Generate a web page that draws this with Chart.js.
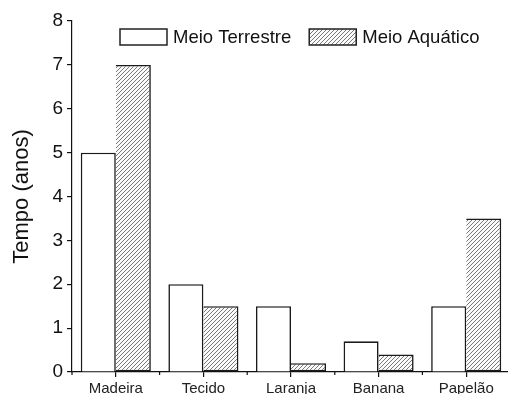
<!DOCTYPE html>
<html>
<head>
<meta charset="utf-8">
<script src="https://cdn.jsdelivr.net/npm/chart.js@4/dist/chart.umd.min.js"></script>
<style>
  html, body { margin: 0; padding: 0; background: #fff; overflow: hidden; }
  #wrap { width: 510px; height: 394px; }
</style>
</head>
<body>
<div id="wrap"><canvas id="chart" width="510" height="394"></canvas></div>
<script>
const categories = ['Madeira', 'Tecido', 'Laranja', 'Banana', 'Papelão'];
const terrestre = [5, 2, 1.5, 0.7, 1.5];
const aquatico = [7, 1.5, 0.2, 0.4, 3.5];
const seriesNames = ['Meio Terrestre', 'Meio Aquático'];
const yTicks = [0, 1, 2, 3, 4, 5, 6, 7, 8];

const FONT = '"Liberation Sans", Arial, sans-serif';

function hatch() {
  const c = document.createElement('canvas');
  c.width = 4;
  c.height = 4;
  const ctx = c.getContext('2d');
  ctx.fillStyle = '#fafafa';
  ctx.fillRect(0, 0, 4, 4);
  ctx.strokeStyle = '#6a6a6a';
  ctx.lineWidth = 0.9;
  ctx.beginPath();
  ctx.moveTo(-1, 5); ctx.lineTo(5, -1);
  ctx.moveTo(-1, 1); ctx.lineTo(1, -1);
  ctx.moveTo(3, 5); ctx.lineTo(5, 3);
  ctx.stroke();
  return ctx.createPattern(c, 'repeat');
}
const hatchFill = hatch();

// small ticks between the categories
const minorTicks = {
  id: 'minorTicks',
  afterDraw(chart) {
    const x = chart.scales.x;
    const ctx = chart.ctx;
    ctx.save();
    ctx.strokeStyle = '#111';
    ctx.lineWidth = 1.2;
    ctx.beginPath();
    for (let i = 0; i < categories.length; i++) {
      const px = x.getPixelForValue(i - 0.5);
      ctx.moveTo(px, x.top);
      ctx.lineTo(px, x.top + 3);
    }
    ctx.stroke();
    ctx.restore();
  }
};

const boxLegend = {
  id: 'boxLegend',
  afterDraw(chart) {
    const ctx = chart.ctx;
    const area = chart.chartArea;
    ctx.save();
    ctx.font = '18.5px ' + FONT;
    ctx.textBaseline = 'middle';
    let x = area.left + 48;
    const y = area.top + 8;
    chart.data.datasets.forEach((ds) => {
      ctx.fillStyle = ds.backgroundColor;
      ctx.fillRect(x, y, 47, 16);
      ctx.strokeStyle = '#222';
      ctx.lineWidth = 1.5;
      ctx.strokeRect(x, y, 47, 16);
      ctx.fillStyle = '#111';
      ctx.fillText(ds.label, x + 53, y + 8.5);
      x += 53 + ctx.measureText(ds.label).width + 18;
    });
    ctx.restore();
  }
};

new Chart(document.querySelector('#chart'), {
  type: 'bar',
  data: {
    labels: categories,
    datasets: [
      {
        label: seriesNames[0],
        data: terrestre,
        backgroundColor: '#ffffff',
        borderColor: '#1a1a1a',
        borderWidth: 1.6,
        barPercentage: 1,
        categoryPercentage: 0.8
      },
      {
        label: seriesNames[1],
        data: aquatico,
        backgroundColor: hatchFill,
        borderColor: '#1a1a1a',
        borderWidth: 1.6,
        borderSkipped: 'left',
        barPercentage: 1,
        categoryPercentage: 0.8
      }
    ]
  },
  options: {
    responsive: false,
    animation: false,
    layout: { padding: { top: 21, right: 0, left: 0, bottom: 0 } },
    plugins: { legend: { display: false }, tooltip: { enabled: false } },
    scales: {
      x: {
        offset: true,
        border: { color: '#111', width: 1.2 },
        grid: { drawOnChartArea: false, offset: false, tickLength: 5, color: '#111', lineWidth: 1.2 },
        ticks: { color: '#222', padding: 3, font: { family: FONT, size: 15 } },
        afterFit(scale) { scale.height = 22; }
      },
      y: {
        min: 0,
        max: 8,
        border: { color: '#111', width: 1.2 },
        grid: { drawOnChartArea: false, tickLength: 5, color: '#111', lineWidth: 1.2 },
        afterBuildTicks(scale) { scale.ticks = yTicks.map((v) => ({ value: v })); },
        ticks: { color: '#111', padding: 4, font: { family: FONT, size: 19 } },
        title: {
          display: true,
          text: 'Tempo (anos)',
          color: '#111',
          padding: { top: 9, bottom: 0 },
          font: { family: FONT, size: 22 }
        },
        afterFit(scale) { scale.width = 72; }
      }
    }
  },
  plugins: [minorTicks, boxLegend]
});
</script>
</body>
</html>
